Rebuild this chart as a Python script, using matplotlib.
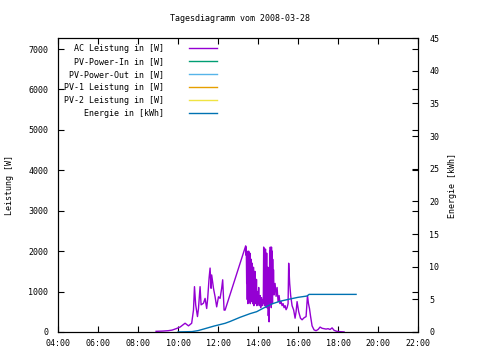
import matplotlib
matplotlib.use('Agg')
import matplotlib.pyplot as plt
from matplotlib.ticker import FuncFormatter

# AC power, time in hours of day
ac_time = [8.9, 9.2, 9.5, 9.7, 9.9, 10.1, 10.35, 10.52, 10.68, 10.77, 10.82, 10.88, 10.97,
           11.02, 11.1, 11.15, 11.27, 11.35, 11.43, 11.48, 11.55, 11.6, 11.65, 11.68, 11.77,
           11.85, 11.93, 12.02, 12.1, 12.18, 12.23, 12.3, 12.35,
           13.38, 13.4, 13.41, 13.43, 13.44, 13.46, 13.47, 13.49, 13.5, 13.52, 13.53, 13.55,
           13.56, 13.58, 13.59, 13.61, 13.62, 13.64, 13.65, 13.67, 13.68, 13.7, 13.71, 13.73,
           13.74, 13.76, 13.77, 13.79, 13.8, 13.82, 13.84, 13.86, 13.88, 13.9, 13.92, 13.94,
           13.97, 14.0, 14.03, 14.06, 14.1, 14.13, 14.17, 14.2, 14.23, 14.26,
           14.28, 14.29, 14.31, 14.32, 14.34, 14.35, 14.37, 14.38, 14.4, 14.41, 14.43, 14.44,
           14.46, 14.47, 14.49, 14.51, 14.53, 14.55, 14.57, 14.58, 14.6, 14.61, 14.63, 14.64,
           14.66, 14.67, 14.69, 14.7, 14.72, 14.73, 14.75,
           14.77, 14.8, 14.85, 14.9, 14.95, 15.0, 15.05, 15.1, 15.15,
           15.2, 15.25, 15.3, 15.35, 15.4, 15.45, 15.5, 15.53, 15.58, 15.63, 15.7, 15.78,
           15.85, 15.9, 15.95, 16.03, 16.12, 16.2, 16.3, 16.4, 16.47, 16.52, 16.57, 16.62,
           16.7, 16.8, 16.9, 17.0, 17.1, 17.2, 17.3, 17.4, 17.5, 17.6, 17.7, 17.8, 17.9,
           18.0, 18.2, 18.3]
ac_power = [15, 20, 30, 45, 80, 120, 215, 150, 215, 540, 1120, 670, 380,
            580, 1120, 670, 710, 830, 580, 830, 1330, 1580, 1080, 1410, 1080,
            870, 620, 870, 830, 1080, 1290, 540, 540,
            2130, 1900, 2100, 1200, 2000, 800, 1900, 700, 1800, 1000, 2000, 750,
            1700, 900, 1950, 700, 1600, 1000, 1800, 750, 1500, 900, 1700, 700,
            1400, 800, 1600, 650, 1300, 900, 1500, 700, 1200, 800, 1300, 650,
            1000, 700, 1100, 650, 900, 600, 850, 650, 800, 700,
            2100, 800, 2050, 650, 1900, 700, 2050, 800, 1800, 600, 1950, 900,
            1500, 600, 1600, 400, 800, 250, 1200, 2000, 700, 2100, 900, 1900,
            600, 2100, 800, 2000, 700, 1800, 1000,
            1540, 915, 1200, 880, 1100, 750, 900, 700, 750,
            650, 700, 600, 650, 550, 600, 700, 1700, 1200, 900, 650, 540,
            340, 500, 750, 500, 340, 300, 350, 380, 900, 700, 580, 400,
            150, 50, 30, 60, 120, 90, 80, 70, 80, 60, 100, 40, 20,
            10, 5, 0]

# cumulative energy in kWh
en_time = [10.0, 10.7, 11.0, 11.3, 11.8, 12.35, 12.6, 13.1, 13.6, 13.93, 14.3, 14.7,
           15.1, 15.53, 16.0, 16.45, 16.55, 18.9]
en_kwh = [0, 0.05, 0.2, 0.46, 0.9, 1.32, 1.6, 2.24, 2.8, 3.1, 3.7, 4.3,
          4.7, 5.0, 5.3, 5.5, 5.75, 5.75]

labels = ['AC Leistung in [W]', 'PV-Power-In in [W]', 'PV-Power-Out in [W]',
          'PV-1 Leistung in [W]', 'PV-2 Leistung in [W]', 'Energie in [kWh]']
colors = ['#9400d3', '#009e73', '#56b4e9', '#e69f00', '#f0e442', '#0072b2']

plt.rcParams['font.family'] = 'DejaVu Sans Mono'
plt.rcParams['font.size'] = 6

fig = plt.figure(figsize=(4.8, 3.6), dpi=100)
ax = fig.add_axes([0.121, 0.078, 0.75, 0.816])
ax2 = ax.twinx()

w = max(len(s) for s in labels)
ax.plot(ac_time, ac_power, color=colors[0], lw=1, label=labels[0].rjust(w))
for i in range(1, 5):
    ax.plot([], [], color=colors[i], lw=1, label=labels[i].rjust(w))
ax2.plot(en_time, en_kwh, color=colors[5], lw=1, label=labels[5].rjust(w))

ax.set_xlim(4, 22)
ax.set_ylim(0, 7270)
ax2.set_ylim(0, 45)
ax.set_xticks(range(4, 23, 2))
ax.xaxis.set_major_formatter(FuncFormatter(lambda v, p: '%02d:00' % int(v)))
ax.set_yticks(range(0, 7001, 1000))
ax2.set_yticks(range(0, 46, 5))

ax.tick_params(direction='in', length=4, width=0.8, top=True, right=True, pad=7)
ax.tick_params(axis='x', pad=5)
ax2.tick_params(direction='in', length=4, width=0.8, pad=8)
ax.set_ylabel('Leistung [W]', labelpad=10)
ax2.set_ylabel('Energie [kWh]', labelpad=6)
for a in (ax, ax2):
    for s in a.spines.values():
        s.set_linewidth(0.8)

fig.text(0.5, 0.948, 'Tagesdiagramm vom 2008-03-28', ha='center', va='center')

h1, l1 = ax.get_legend_handles_labels()
h2, l2 = ax2.get_legend_handles_labels()
ax2.legend(h1 + h2, l1 + l2, loc='upper left', frameon=False, markerfirst=False,
           handlelength=3.4, handletextpad=3.0, labelspacing=0.47,
           borderaxespad=0.4, borderpad=0.3)

fig.savefig('out.png', dpi=100)
